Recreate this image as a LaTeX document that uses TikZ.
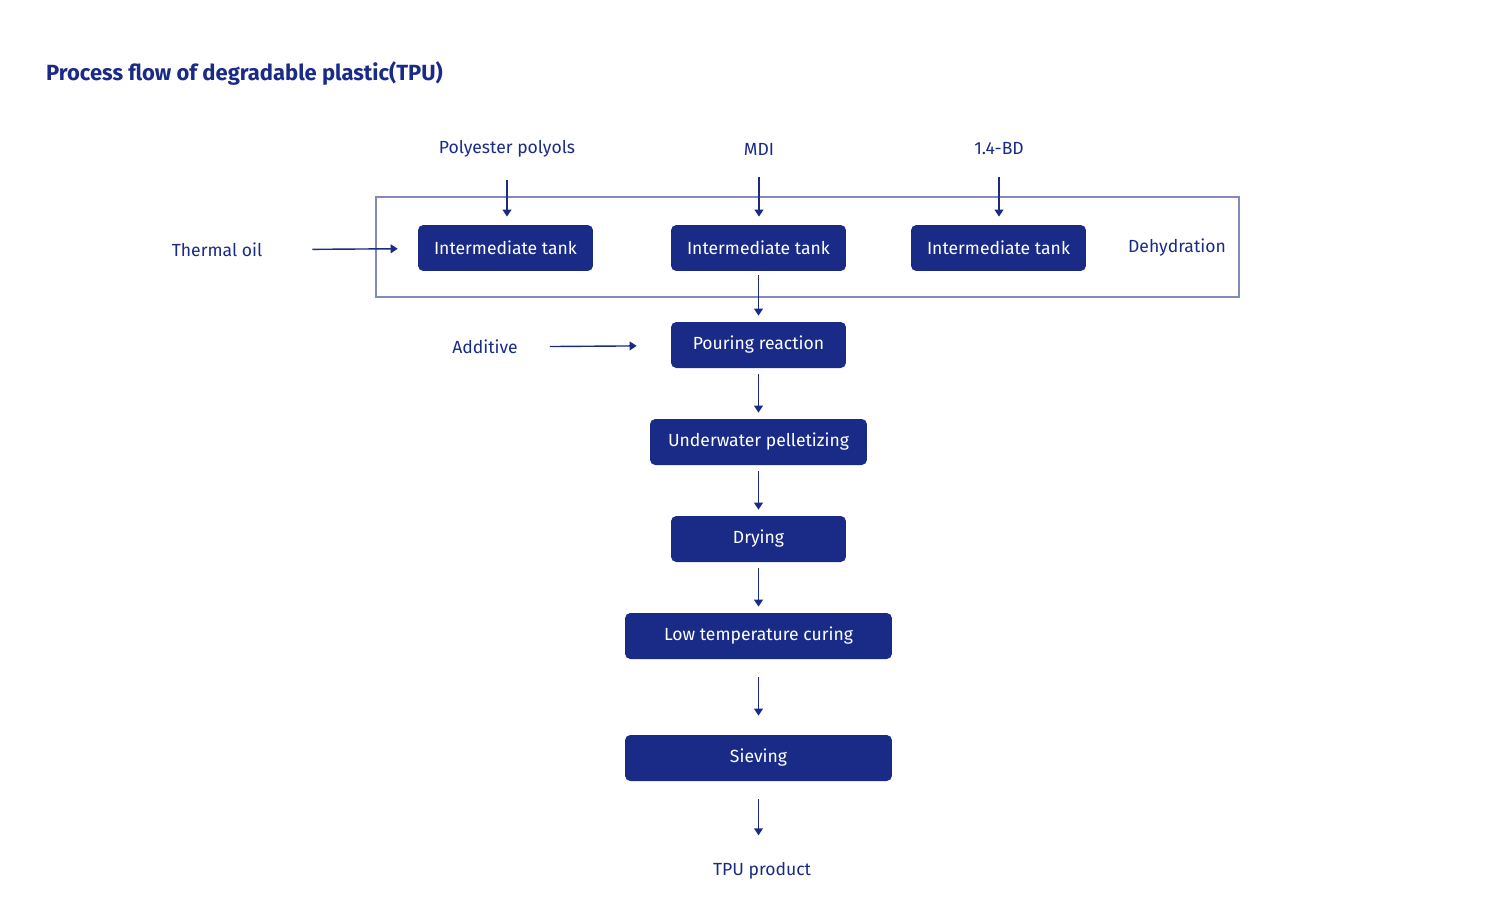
\documentclass[tikz,border=0pt]{standalone}
\usepackage{fontspec}
\setmainfont{Fira Sans}
\usetikzlibrary{arrows.meta}
\definecolor{navy}{HTML}{1A2A87}
\begin{document}
\begin{tikzpicture}[x=0.02cm,y=-0.02cm,
box/.style={
rounded corners=3pt,
fill=navy,
text=white,
font={\fontsize{10pt}{12}\selectfont},
minimum height=0.92cm,
},
w1/.style={
box,
minimum width=3.5cm,
},
w2/.style={
box,
minimum width=4.34cm,
},
w3/.style={
box,
minimum width=5.34cm,
},
txt/.style={
text=navy,
font={\fontsize{10pt}{12}\selectfont},
},
flow/.style={
draw=navy,
line width=0.8pt,
-{Triangle[width=5pt,length=4pt]},
},
]
\useasboundingbox (0,0) rectangle (1485,913);
\node[anchor=west,text=navy,font={\bfseries\fontsize{12.5pt}{14}\selectfont}]at(40,74){Process flow of degradable plastic(TPU)};
\draw[navy!55,line width=0.8pt](376,197)rectangle(1239,297);
\node[txt](polyol)at(507,149){Polyester polyols};
\node[txt](mdi)at(759,149){MDI};
\node[txt](bd)at(999,149){1.4-BD};
\node[txt](oil)at(217,250){Thermal oil};
\node[txt](dehyd)at(1177,248){Dehydration};
\node[txt](add)at(485,347){Additive};
\node[w1](tank1)at(505.5,248){Intermediate tank};
\node[w1](tank2)at(758.5,248){Intermediate tank};
\node[w1](tank3)at(998.5,248){Intermediate tank};
\node[w1](pour)at(758.5,345){Pouring reaction};
\node[w2](pellet)at(758.5,442){Underwater pelletizing};
\node[w1](dry)at(758.5,539){Drying};
\node[w3](cure)at(758.5,636){Low temperature curing};
\node[w3](sieve)at(758.5,758){Sieving};
\node[txt](tpu)at(762,871){TPU product};
% feeds
\draw[flow,shorten <=0.32cm,shorten >=0.16cm](polyol)--(polyol|-tank1.north);
\draw[flow,shorten <=0.32cm,shorten >=0.16cm](mdi)--(mdi|-tank2.north);
\draw[flow,shorten <=0.32cm,shorten >=0.16cm](bd)--(bd|-tank3.north);
\draw[flow,shorten <=0.88cm,shorten >=0.4cm](oil)--(tank1);
\draw[flow,shorten <=0.52cm,shorten >=0.68cm](add)--(pour);
% main line
\draw[flow,shorten <=0.08cm,shorten >=0.12cm](tank2)--(pour);
\draw[flow,shorten <=0.12cm,shorten >=0.12cm](pour)--(pellet);
\draw[flow,shorten <=0.12cm,shorten >=0.12cm](pellet)--(dry);
\draw[flow,shorten <=0.12cm,shorten >=0.12cm](dry)--(cure);
\draw[flow,shorten <=0.36cm,shorten >=0.38cm](cure)--(sieve);
\draw[flow,shorten <=0.36cm,shorten >=0.42cm](sieve)--(sieve|-tpu.north);
\end{tikzpicture}
\end{document}
